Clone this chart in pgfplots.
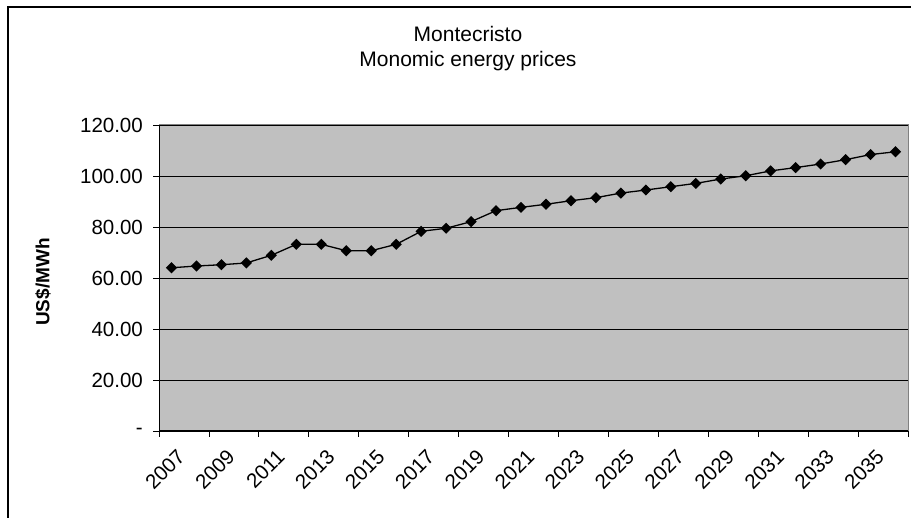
\documentclass[border=0pt]{standalone}
\usepackage{fontspec}
\setmainfont{Liberation Sans}
\usepackage{pgfplots}
\pgfplotsset{compat=1.18}
\definecolor{plotgray}{HTML}{C0C0C0}
\definecolor{bordergray}{HTML}{808080}
\pgfplotstableread{
year price
2007 64.0
2008 64.7
2009 65.2
2010 65.9
2011 68.9
2012 73.2
2013 73.2
2014 70.7
2015 70.7
2016 73.2
2017 78.3
2018 79.5
2019 82.1
2020 86.4
2021 87.7
2022 88.9
2023 90.3
2024 91.5
2025 93.3
2026 94.5
2027 95.8
2028 97.1
2029 98.8
2030 100.1
2031 102.0
2032 103.3
2033 104.7
2034 106.4
2035 108.4
2036 109.5
}\pricedata
\begin{document}
\begin{tikzpicture}[x=1pt,y=1pt]
\path[use as bounding box] (0,0) rectangle (911,518);
\draw[line width=1.4pt] (8,0) -- (8,511) -- (911,511);
\node[anchor=base, font=\fontsize{21}{24}\selectfont] at (468,476) {Montecristo};
\node[anchor=base, font=\fontsize{21}{24}\selectfont] at (468,451) {Monomic energy prices};
\node[rotate=90, font=\bfseries\fontsize{19}{23}\selectfont] at (43,236) {US\$/MWh};
\begin{axis}[
  at={(159pt,87pt)}, anchor=south west,
  width=749pt, height=306pt, scale only axis,
  xmin=2006.5, xmax=2036.5, ymin=0, ymax=120,
  axis background/.style={fill=plotgray},
  axis line style={draw=none},
  xtick={2006.5,2008.5,...,2036.5},
  xticklabels={2007,2009,2011,2013,2015,2017,2019,2021,2023,2025,2027,2029,2031,2033,2035,{}},
  ytick={0,20,...,120},
  yticklabels={{-\hspace{22pt}},20.00,40.00,60.00,80.00,100.00,120.00},
  xtick pos=bottom, ytick pos=left,
  tick align=outside, major tick length=6pt,
  tick style={black, line width=0.8pt},
  ymajorgrids, grid style={black, line width=0.8pt},
  ticklabel style={font=\fontsize{20.5}{24}\selectfont},
  xticklabel style={rotate=45, anchor=north east, inner sep=0pt, xshift=4pt, yshift=-20pt},
  yticklabel style={anchor=east, inner sep=0pt, xshift=-10pt},
  clip=false,
]
\draw[bordergray, line width=1pt] (rel axis cs:0,1) -- (rel axis cs:1,1) -- (rel axis cs:1,0);
\draw[black, line width=1pt] (rel axis cs:0,1) -- (rel axis cs:0,0) -- (rel axis cs:1,0);
\addplot[black, line width=1.3pt, mark=square*, mark size=3.3pt, mark options={rotate=45, solid}] table[x=year, y=price] {\pricedata};
\end{axis}
\end{tikzpicture}
\end{document}
